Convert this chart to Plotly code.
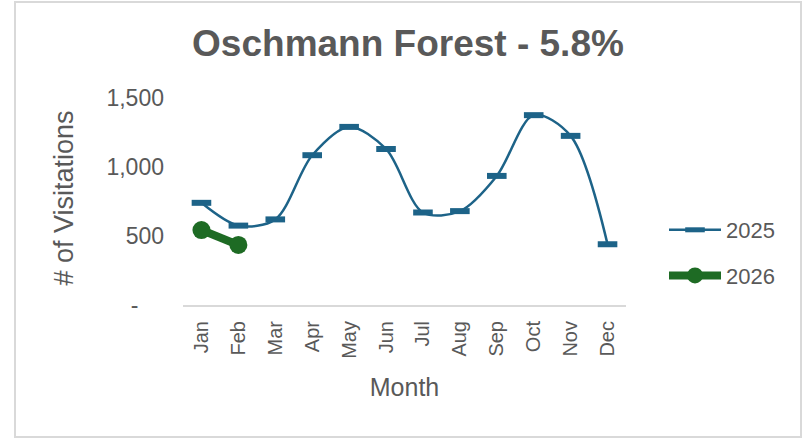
import plotly.graph_objects as go

months = ["Jan", "Feb", "Mar", "Apr", "May", "Jun", "Jul", "Aug", "Sep", "Oct", "Nov", "Dec"]
visits_2025 = [740, 575, 620, 1085, 1290, 1130, 670, 680, 935, 1375, 1225, 440]
months_2026 = ["Jan", "Feb"]
visits_2026 = [543, 435]
ytick_vals = [0, 500, 1000, 1500]
ytick_text = ["-\u00a0\u00a0\u00a0\u00a0", "500", "1,000", "1,500"]

FONT = "Liberation Sans, Arial, sans-serif"
GRAY = "#595959"
BLUE = "#1d6388"
GREEN = "#1e6b24"

fig = go.Figure()
fig.add_trace(go.Scatter(
    x=months, y=visits_2025, name="2025", mode="lines+markers",
    line=dict(color=BLUE, width=2.5, shape="spline", smoothing=0.9),
    marker=dict(symbol="line-ew", size=14, color=BLUE, line=dict(color=BLUE, width=6)),
    legendgroup="a", cliponaxis=False,
))
fig.add_trace(go.Scatter(
    x=months_2026, y=visits_2026, name="2026", mode="lines+markers",
    line=dict(color=GREEN, width=8, shape="spline"),
    marker=dict(symbol="circle", size=18, color=GREEN, line=dict(width=0)),
    legendgroup="b", cliponaxis=False,
))

L, R, T, B = 183, 182, 91, 135
W, H = 808, 440
pw, ph = W - L - R, H - T - B

def px_x(v):
    return (v - L) / pw

def px_y(v):
    return (H - B - v) / ph

fig.update_layout(
    width=W, height=H,
    margin=dict(l=L, r=R, t=T, b=B, autoexpand=False),
    paper_bgcolor="white", plot_bgcolor="white",
    font=dict(family=FONT, color=GRAY),
    title=dict(text="<b>Oschmann Forest - 5.8%</b>", xref="container", x=408 / W, xanchor="center",
               y=1 - 43 / H, yanchor="middle", font=dict(size=37, color=GRAY, family=FONT)),
    showlegend=True,
    legend=dict(x=px_x(664), xanchor="left", y=px_y(209), yanchor="top",
                font=dict(size=22, color=GRAY, family=FONT), itemwidth=52,
                traceorder="grouped", tracegroupgap=14, bgcolor="rgba(0,0,0,0)"),
    xaxis=dict(
        type="category", categoryorder="array", categoryarray=months,
        range=[-0.5, 11.5], showgrid=False, zeroline=False,
        showline=True, linecolor="#d9d9d9", linewidth=2,
        tickangle=-90, tickfont=dict(size=20, color=GRAY, family=FONT),
        ticks="", ticklabelstandoff=6,
        title=dict(text="Month", font=dict(size=25, color=GRAY, family=FONT), standoff=21),
    ),
    yaxis=dict(
        range=[0, 1550], tickvals=ytick_vals, ticktext=ytick_text,
        showgrid=False, zeroline=False, showline=False,
        tickfont=dict(size=23, color=GRAY, family=FONT), ticks="", ticklabelstandoff=18,
        title=dict(text="# of Visitations", font=dict(size=27, color=GRAY, family=FONT), standoff=24),
    ),
    shapes=[dict(type="rect", xref="paper", yref="paper",
                 x0=px_x(15), x1=px_x(801), y0=px_y(437), y1=px_y(2),
                 line=dict(color="#d9d9d9", width=2), fillcolor="rgba(0,0,0,0)", layer="below")],
)

fig.write_html("out.html", config={"displayModeBar": False},
               post_script="document.body.style.margin='0';document.body.style.overflow='hidden';")
